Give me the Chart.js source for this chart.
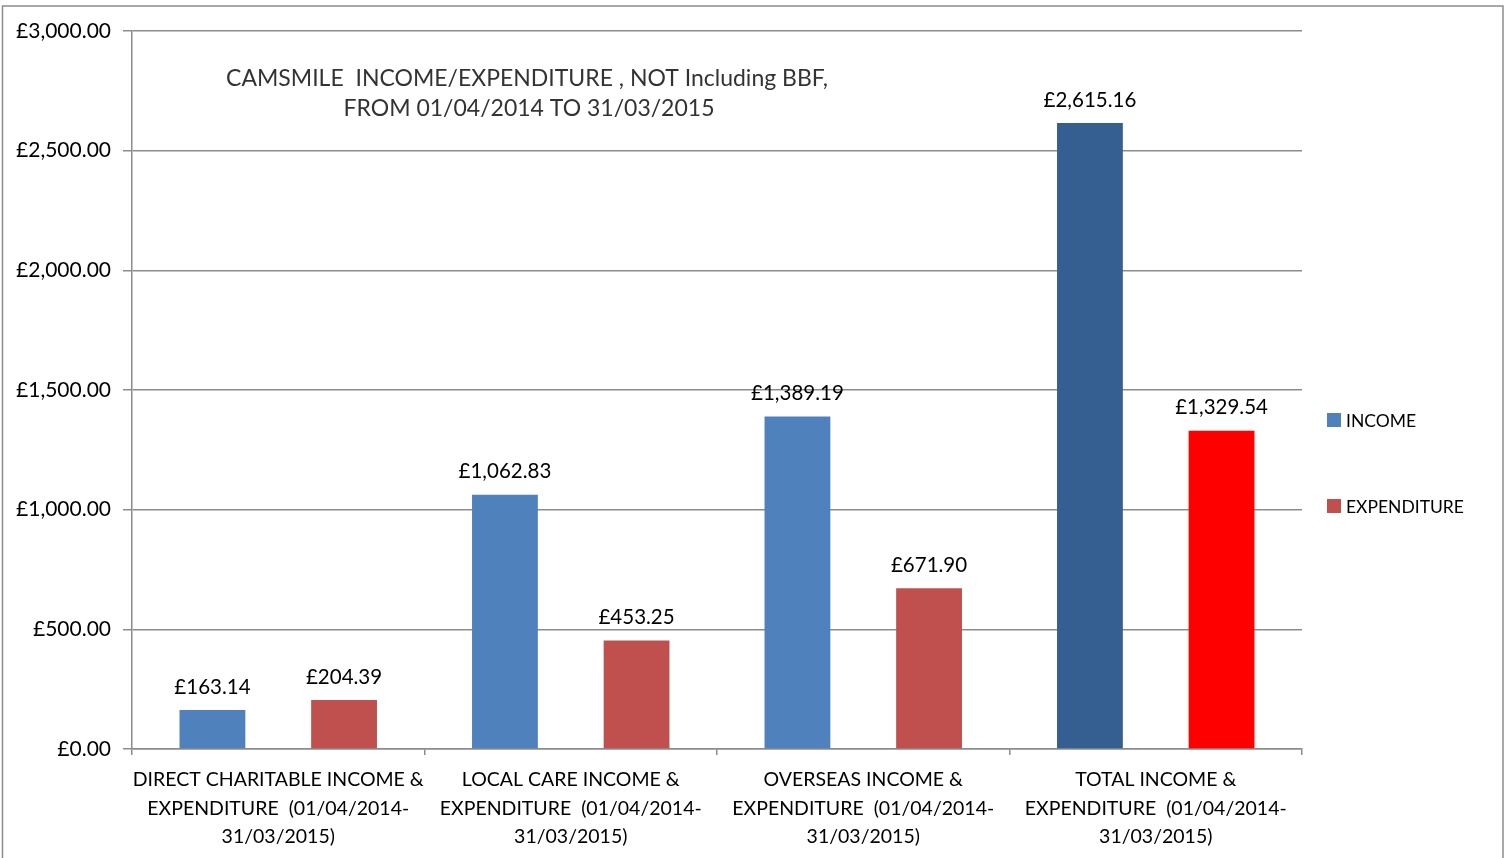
<!DOCTYPE html>
<html>
<head>
<meta charset="UTF-8">
<script src="https://cdn.jsdelivr.net/npm/chart.js"></script>
<style>
body { margin: 0; background: #fff; overflow: hidden; }
#wrap { position: relative; width: 1509px; height: 858px; }
</style>
</head>
<body>
<div id="wrap"><canvas id="c" width="1509" height="858"></canvas></div>
<script>
// chart data
const categories = [
	['DIRECT CHARITABLE INCOME &', 'EXPENDITURE  (01/04/2014-', '31/03/2015)'],
	['LOCAL CARE INCOME &', 'EXPENDITURE  (01/04/2014-', '31/03/2015)'],
	['OVERSEAS INCOME &', 'EXPENDITURE  (01/04/2014-', '31/03/2015)'],
	['TOTAL INCOME &', 'EXPENDITURE  (01/04/2014-', '31/03/2015)']
];
const income = [163.14, 1062.83, 1389.19, 2615.16];
const expenditure = [204.39, 453.25, 671.90, 1329.54];
const titleLines = ['CAMSMILE  INCOME/EXPENDITURE , NOT Including BBF,', 'FROM 01/04/2014 TO 31/03/2015'];
const yTicks = [0, 500, 1000, 1500, 2000, 2500, 3000];

const FONT = 'Lato, "Open Sans", sans-serif';
const money = v => '£' + v.toLocaleString('en-GB', { minimumFractionDigits: 2, maximumFractionDigits: 2 });

const extras = {
	id: 'extras',
	beforeDraw(chart) {
		const ctx = chart.ctx;
		ctx.save();
		ctx.fillStyle = '#fff';
		ctx.fillRect(0, 0, chart.width, chart.height);
		ctx.strokeStyle = '#8c8c8c';
		ctx.lineWidth = 1.5;
		ctx.strokeRect(2.5, 6, 1500.5, 900);
		ctx.restore();
	},
	afterDraw(chart) {
		const ctx = chart.ctx;
		ctx.save();
		// title inside the plot
		ctx.fillStyle = '#333';
		ctx.font = '23px ' + FONT;
		ctx.textAlign = 'center';
		ctx.textBaseline = 'middle';
		ctx.fillText(titleLines[0], 527, 79);
		ctx.fillText(titleLines[1], 529, 109);
		// value labels
		ctx.fillStyle = '#000';
		ctx.font = '20.5px ' + FONT;
		chart.data.datasets.forEach((ds, i) => {
			chart.getDatasetMeta(i).data.forEach((bar, j) => {
				ctx.fillText(money(ds.data[j]), bar.x, bar.y - 23);
			});
		});
		// legend
		ctx.textAlign = 'left';
		ctx.font = '17.5px ' + FONT;
		const items = [['INCOME', '#4F81BD', 420], ['EXPENDITURE', '#C0504D', 506]];
		items.forEach(([t, c, y]) => {
			ctx.fillStyle = c;
			ctx.fillRect(1327, y - 7, 14, 14);
			ctx.fillStyle = '#000';
			ctx.fillText(t, 1346, y + 1);
		});
		ctx.restore();
	}
};

new Chart(document.getElementById('c'), {
	type: 'bar',
	data: {
		labels: categories,
		datasets: [
			{ label: 'INCOME', data: income, backgroundColor: ['#4F81BD', '#4F81BD', '#4F81BD', '#355F91'] },
			{ label: 'EXPENDITURE', data: expenditure, backgroundColor: ['#C0504D', '#C0504D', '#C0504D', '#FF0000'] }
		]
	},
	options: {
		responsive: false,
		animation: false,
		devicePixelRatio: 1,
		categoryPercentage: 0.9,
		barPercentage: 0.5,
		layout: { padding: { top: 31, right: 207, left: 0, bottom: 0 } },
		plugins: { legend: { display: false }, tooltip: { enabled: false } },
		scales: {
			x: {
				afterFit: s => { s.height = 109; },
				grid: { drawOnChartArea: false, color: '#8c8c8c', lineWidth: 1.5, tickLength: 6 },
				border: { color: '#8c8c8c', width: 1.5 },
				ticks: { color: '#000', font: { family: FONT, size: 19.5, lineHeight: 1.45 }, padding: 11, maxRotation: 0, autoSkip: false }
			},
			y: {
				min: 0, max: 3000,
				afterFit: s => { s.width = 132; },
				afterBuildTicks: s => { s.ticks = yTicks.map(v => ({ value: v })); },
				grid: { color: '#8c8c8c', lineWidth: 1.5, tickLength: 9 },
				border: { color: '#8c8c8c', width: 1.5 },
				ticks: { color: '#000', font: { family: FONT, size: 21 }, padding: 12, callback: v => money(v) }
			}
		}
	},
	plugins: [extras]
});
</script>
</body>
</html>
